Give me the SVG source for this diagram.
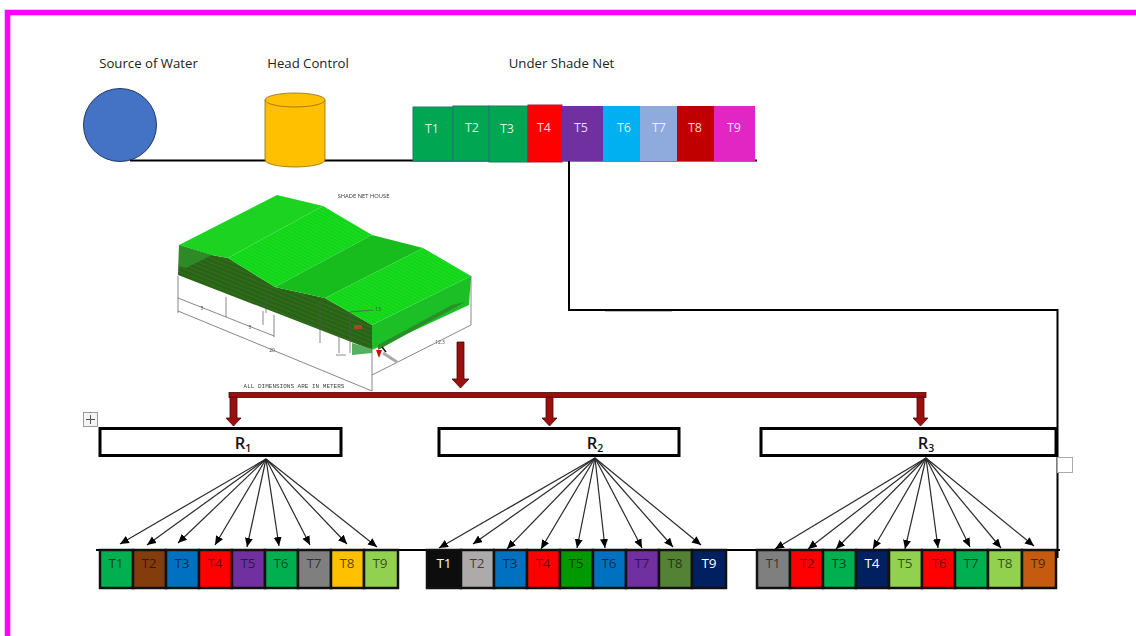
<svg xmlns="http://www.w3.org/2000/svg" width="1136" height="636" viewBox="0 0 1136 636">
<style>
text{font-family:"Open Sans","Noto Sans","Liberation Sans",sans-serif}
.lab{font-size:13.200px;fill:#222;text-anchor:middle}
.top{font-size:12.500px;fill:#fff;text-anchor:middle;fill-opacity:.85}
.cell{stroke:#111;stroke-width:2.500}
.ct{font-size:13.500px;fill:#111;fill-opacity:.72;text-anchor:middle}
.w{fill:#fff;fill-opacity:1}
.rb{fill:#fff;stroke:#000;stroke-width:3}
.rt{font-size:16.500px;font-weight:600;fill:#111;text-anchor:middle}
.rs{font-size:10.500px}
.ln{fill:none;stroke:#000;stroke-width:2}
.ar{stroke:#2a2a2a;stroke-width:1.200;fill:none;marker-end:url(#a)}
.red{fill:#9c0f0f;stroke:#4a0505;stroke-width:.8}
.dim{fill:none;stroke:#555;stroke-width:.7}
.dt{font-size:5px;fill:#444;text-anchor:middle}
</style>
<defs>
<marker id="a" markerUnits="userSpaceOnUse" markerWidth="10" markerHeight="9" refX="9" refY="4" orient="auto"><path d="M0 0L9 4L0 8z" fill="#000"/></marker>
<pattern id="st" width="6" height="4" patternUnits="userSpaceOnUse" patternTransform="rotate(22)"><rect width="6" height="4" fill="#2b6319"/><rect width="6" height="1" fill="#316f1e"/></pattern>
<pattern id="hs" width="7" height="3" patternUnits="userSpaceOnUse" patternTransform="rotate(28)"><rect width="7" height="3" fill="#13dd1c"/><rect width="7" height="1" fill="#15cc1d"/></pattern>
<filter id="b" x="-5%" y="-5%" width="110%" height="110%"><feGaussianBlur stdDeviation=".5"/></filter>
</defs>
<rect width="1136" height="636" fill="#fff"/>
<path d="M1136 12.500H7.500V636" fill="none" stroke="#ff00ff" stroke-width="5.500"/>

<g id="connectors">
<path class="ln" d="M130 160.500H757"/>
<path class="ln" d="M569 161V310H1057.500V558"/>
<path d="M605 310.500H672" stroke="#000" stroke-width="1.500"/>
<path class="ln" d="M96 550H1060"/>
<g>
<path class="ar" d="M266 459L120 544"/><path class="ar" d="M266 459L147 545"/><path class="ar" d="M266 459L178 543"/><path class="ar" d="M266 459L215 545"/><path class="ar" d="M266 459L247 547"/><path class="ar" d="M266 459L279 546"/><path class="ar" d="M266 459L310 545"/><path class="ar" d="M266 459L347 544"/><path class="ar" d="M266 459L377 547"/>
</g>
<g>
<path class="ar" d="M595 458L439 548"/><path class="ar" d="M595 458L473 544"/><path class="ar" d="M595 458L507 549"/><path class="ar" d="M595 458L541 549"/><path class="ar" d="M595 458L577 548"/><path class="ar" d="M595 458L605 548"/><path class="ar" d="M595 458L642 548"/><path class="ar" d="M595 458L673 547"/><path class="ar" d="M595 458L701 545"/>
</g>
<g>
<path class="ar" d="M926 458L775 549"/><path class="ar" d="M926 458L808 549"/><path class="ar" d="M926 458L836 549"/><path class="ar" d="M926 458L873 549"/><path class="ar" d="M926 458L905 549"/><path class="ar" d="M926 458L938 548"/><path class="ar" d="M926 458L970 547"/><path class="ar" d="M926 458L1001 548"/><path class="ar" d="M926 458L1034 546"/>
</g>
<rect class="red" x="229" y="392.500" width="697" height="5"/>
<path class="red" d="M457 342H464V379H469L460.500 388L452 379H457z"/>
<path class="red" d="M230 397H237V418H241L233.500 426L226 418H230z"/>
<path class="red" d="M546 397H553V418H557L549.500 426L542 418H546z"/>
<path class="red" d="M917 397H924V418H928L920.500 426L913 418H917z"/>
</g>

<g id="source"><circle cx="120" cy="125" r="36.500" fill="#4472c4" stroke="#1f3864" stroke-width="1"/><text class="lab" x="148.500" y="68">Source of Water</text></g>
<g id="head"><path d="M265 100V160A30 7 0 0 0 325 160V100z" fill="#ffc000" stroke="#8a6d10" stroke-width=".8"/><ellipse cx="295" cy="100" rx="30" ry="7" fill="#ffc000" stroke="#8a6d10" stroke-width=".8"/><text class="lab" x="308" y="68">Head Control</text></g>
<text class="lab" x="561.500" y="68">Under Shade Net</text>

<g id="shade-strip">
<g id="s1"><rect x="413" y="107" width="40" height="54" fill="#00a651" stroke="#1b7a6c"/><text class="top" x="432" y="133">T1</text></g>
<g id="s2"><rect x="453" y="106" width="36" height="55" fill="#00a651" stroke="#1b7a6c"/><text class="top" x="472" y="132">T2</text></g>
<g id="s3"><rect x="489" y="106" width="39" height="56" fill="#00a651" stroke="#1b7a6c"/><text class="top" x="507" y="133">T3</text></g>
<g id="s4"><rect x="528" y="105" width="34" height="57" fill="#ff0000" stroke="#a81c3c"/><text class="top" x="544" y="132">T4</text></g>
<g id="s5"><rect x="562" y="106" width="41" height="55" fill="#7030a0"/><text class="top" x="581" y="132">T5</text></g>
<g id="s6"><rect x="603" y="106" width="37" height="55" fill="#00b0f0"/><text class="top" x="624" y="132">T6</text></g>
<g id="s7"><rect x="640" y="106" width="37" height="55" fill="#8faadc"/><text class="top" x="659" y="132">T7</text></g>
<g id="s8"><rect x="677" y="106" width="37" height="55" fill="#c00000"/><text class="top" x="695" y="132">T8</text></g>
<g id="s9"><rect x="714" y="106" width="41" height="55" fill="#e126c4"/><text class="top" x="734" y="132">T9</text></g>
</g>

<g id="shade-net-house">
<g filter="url(#b)">
<path d="M179 245L212 255L228 258L275 287L325 298L372 325V350L178 275z" fill="url(#st)"/>
<path d="M179 245L212 255L186 268L179 266z" fill="#2f8a26"/>
<path d="M372 325L471 276L469 305L372 350z" fill="#1cbf26"/>
<path d="M378 345L452 305L465 302L378 350z" fill="#2a8f2a"/>
<path d="M179 245L277 195L323 206L228 258L212 255z" fill="#1fd324"/>
<path d="M228 258L323 206L372 235L275 287z" fill="url(#hs)"/>
<path d="M275 287L372 235L423 248L325 298z" fill="#13bd1b"/>
<path d="M325 298L423 248L471 276L372 325z" fill="url(#hs)"/>
<path d="M352 343V355L372 353V349z" fill="#55b060"/>
<path class="dim" d="M178 276V313M178 298L226 317L274 336M178 311L372 391M226 297V317M274 315V337M263 311V325M372 350V391M372 375L471 325M471 276V325M266 295V313M320 302V343M339 332V353M350 312V353M350 312L373 310M336 355H346"/>
<path d="M376 350L379 358L382 350z" fill="#cc1111"/>
<path d="M354 325h8v4h-8z" fill="#b5402a"/>
<path d="M383 353L397 362" stroke="#aaa" stroke-width="3"/>
<path d="M382 347L386 352" stroke="#111" stroke-width="1.500"/>
<text class="dt" x="202" y="310">5</text><text class="dt" x="250" y="329">5</text><text class="dt" x="272" y="352">20</text><text class="dt" x="440" y="344">12.3</text><text class="dt" x="378" y="311">13</text>
<text x="363.500" y="197.500" font-size="5.800" fill="#333" text-anchor="middle">SHADE NET HOUSE</text>
<text x="294" y="388" font-size="6" fill="#444" text-anchor="middle" style="font-family:'Liberation Mono',monospace">ALL DIMENSIONS ARE IN METERS</text>
</g>
</g>

<g id="handle" fill="none" stroke="#999"><rect x="83.500" y="412.500" width="14" height="14" fill="#f4f4f4"/><path d="M90.500 415V424M86 419.500H95" stroke="#555"/></g>
<rect id="small-box" x="1057.500" y="457.500" width="15" height="15" fill="#fff" stroke="#aaa"/>

<g id="R1"><rect class="rb" x="100" y="428.500" width="241" height="27"/><text class="rt" x="243" y="449">R<tspan class="rs" dy="3">1</tspan></text></g>
<g id="R2"><rect class="rb" x="439" y="428.500" width="240" height="27"/><text class="rt" x="595" y="449">R<tspan class="rs" dy="3">2</tspan></text></g>
<g id="R3"><rect class="rb" x="761" y="428.500" width="295" height="27"/><text class="rt" x="926" y="449">R<tspan class="rs" dy="3">3</tspan></text></g>

<g id="table-1">
<g><rect class="cell" x="100" y="550" width="33" height="38" fill="#00b050"/><text class="ct" x="116" y="568">T1</text></g>
<g><rect class="cell" x="133" y="550" width="33" height="38" fill="#843c0c"/><text class="ct" x="149" y="568">T2</text></g>
<g><rect class="cell" x="166" y="550" width="33" height="38" fill="#0070c0"/><text class="ct" x="182" y="568">T3</text></g>
<g><rect class="cell" x="199" y="550" width="33" height="38" fill="#ff0000"/><text class="ct" x="215" y="568">T4</text></g>
<g><rect class="cell" x="232" y="550" width="33" height="38" fill="#7030a0"/><text class="ct" x="248" y="568">T5</text></g>
<g><rect class="cell" x="265" y="550" width="33" height="38" fill="#00b050"/><text class="ct" x="281" y="568">T6</text></g>
<g><rect class="cell" x="298" y="550" width="33" height="38" fill="#7f7f7f"/><text class="ct" x="314" y="568">T7</text></g>
<g><rect class="cell" x="331" y="550" width="33" height="38" fill="#ffc000"/><text class="ct" x="347" y="568">T8</text></g>
<g><rect class="cell" x="364" y="550" width="34" height="38" fill="#92d050"/><text class="ct" x="380" y="568">T9</text></g>
</g>
<g id="table-2">
<g><rect class="cell" x="427" y="550" width="34" height="38" fill="#0d0d0d"/><text class="ct w" x="444" y="568">T1</text></g>
<g><rect class="cell" x="461" y="550" width="33" height="38" fill="#aeaaaa"/><text class="ct" x="477" y="568">T2</text></g>
<g><rect class="cell" x="494" y="550" width="33" height="38" fill="#0070c0"/><text class="ct" x="510" y="568">T3</text></g>
<g><rect class="cell" x="527" y="550" width="33" height="38" fill="#ff0000"/><text class="ct" x="543" y="568">T4</text></g>
<g><rect class="cell" x="560" y="550" width="33" height="38" fill="#009900"/><text class="ct" x="576" y="568">T5</text></g>
<g><rect class="cell" x="593" y="550" width="33" height="38" fill="#0070c0"/><text class="ct" x="609" y="568">T6</text></g>
<g><rect class="cell" x="626" y="550" width="33" height="38" fill="#7030a0"/><text class="ct" x="642" y="568">T7</text></g>
<g><rect class="cell" x="659" y="550" width="33" height="38" fill="#548235"/><text class="ct" x="675" y="568">T8</text></g>
<g><rect class="cell" x="692" y="550" width="34" height="38" fill="#002060"/><text class="ct w" x="709" y="568">T9</text></g>
</g>
<g id="table-3">
<g><rect class="cell" x="757" y="550" width="33" height="38" fill="#7f7f7f"/><text class="ct" x="773" y="568">T1</text></g>
<g><rect class="cell" x="790" y="550" width="33" height="38" fill="#ff0000"/><text class="ct" x="807" y="568">T2</text></g>
<g><rect class="cell" x="823" y="550" width="33" height="38" fill="#00b050"/><text class="ct" x="839" y="568">T3</text></g>
<g><rect class="cell" x="856" y="550" width="33" height="38" fill="#002060"/><text class="ct w" x="872" y="568">T4</text></g>
<g><rect class="cell" x="889" y="550" width="33" height="38" fill="#92d050"/><text class="ct" x="905" y="568">T5</text></g>
<g><rect class="cell" x="922" y="550" width="33" height="38" fill="#ff0000"/><text class="ct" x="939" y="568">T6</text></g>
<g><rect class="cell" x="955" y="550" width="33" height="38" fill="#00b050"/><text class="ct" x="971" y="568">T7</text></g>
<g><rect class="cell" x="988" y="550" width="34" height="38" fill="#92d050"/><text class="ct" x="1005" y="568">T8</text></g>
<g><rect class="cell" x="1022" y="550" width="34" height="38" fill="#c55a11"/><text class="ct" x="1038" y="568">T9</text></g>
</g>
</svg>
